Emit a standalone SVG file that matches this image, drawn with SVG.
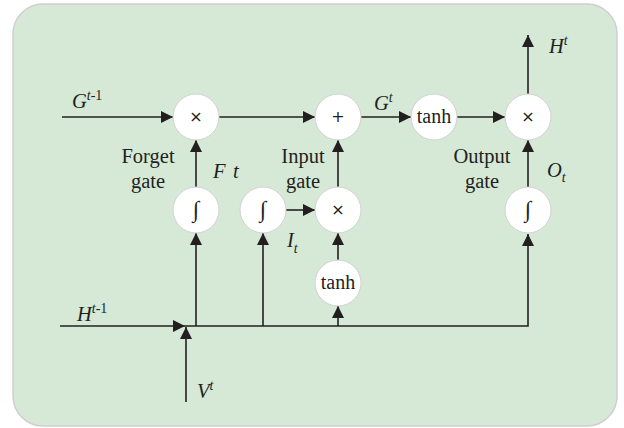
<svg xmlns="http://www.w3.org/2000/svg" width="624" height="428" viewBox="0 0 624 428">
<style>
.bg{fill:#d5e9d6;stroke:#cfcfcf;stroke-width:1.5}
.nd{fill:#fff;stroke:#d2d2d2;stroke-width:1}
.ln{fill:none;stroke:#231f20;stroke-width:1.6}
.t{font-family:"Liberation Serif","DejaVu Serif",serif;fill:#231f20;font-size:20.5px}
.tn{font-size:20px}
.c{text-anchor:middle}
.i{font-style:italic;font-size:20.5px}
.sp{font-size:14px}
.up{font-style:normal}
.int{font-family:"Liberation Serif","DejaVu Serif",serif;fill:#231f20;font-size:23px;text-anchor:middle}
.sym{font-family:"DejaVu Sans","Liberation Sans",sans-serif;fill:#231f20;font-size:16px;text-anchor:middle}
</style>
<defs>
<marker id="ah" markerUnits="userSpaceOnUse" markerWidth="13" markerHeight="13" refX="12" refY="6" orient="auto">
<path d="M0,0 L12,6 L0,12 z" fill="#231f20"/>
</marker>
</defs>
<rect class="bg" x="13" y="4" width="604" height="422" rx="30" ry="30"/>
<g id="connectors">
<line class="ln" x1="62" y1="117" x2="173" y2="117" marker-end="url(#ah)"/>
<line class="ln" x1="219" y1="117" x2="315" y2="117" marker-end="url(#ah)"/>
<line class="ln" x1="361" y1="117" x2="411" y2="117" marker-end="url(#ah)"/>
<line class="ln" x1="457" y1="117" x2="505" y2="117" marker-end="url(#ah)"/>
<line class="ln" x1="528" y1="94" x2="528" y2="35" marker-end="url(#ah)"/>
<line class="ln" x1="196" y1="187" x2="196" y2="140" marker-end="url(#ah)"/>
<line class="ln" x1="338" y1="187" x2="338" y2="140" marker-end="url(#ah)"/>
<line class="ln" x1="528" y1="187" x2="528" y2="140" marker-end="url(#ah)"/>
<line class="ln" x1="286" y1="210" x2="315" y2="210" marker-end="url(#ah)"/>
<line class="ln" x1="338" y1="260" x2="338" y2="233" marker-end="url(#ah)"/>
<line class="ln" x1="60" y1="326" x2="185" y2="326" marker-end="url(#ah)"/>
<line class="ln" x1="186" y1="402" x2="186" y2="327" marker-end="url(#ah)"/>
<polyline class="ln" points="185,326 528,326 528,234" marker-end="url(#ah)"/>
<line class="ln" x1="196" y1="326" x2="196" y2="233" marker-end="url(#ah)"/>
<line class="ln" x1="263" y1="326" x2="263" y2="233" marker-end="url(#ah)"/>
<line class="ln" x1="338" y1="326" x2="338" y2="306" marker-end="url(#ah)"/>
</g>
<g id="forget-mult"><circle class="nd" cx="196" cy="117" r="23"/><text class="sym" x="196" y="122">×</text></g>
<g id="add"><circle class="nd" cx="338" cy="117" r="23"/><text class="sym" x="338" y="122">+</text></g>
<g id="tanh-out"><circle class="nd" cx="434" cy="117" r="23"/><text class="t tn c" x="434" y="123">tanh</text></g>
<g id="output-mult"><circle class="nd" cx="528" cy="117" r="23"/><text class="sym" x="528" y="122">×</text></g>
<g id="forget-sigma"><circle class="nd" cx="196" cy="210" r="23"/><text class="int" x="196" y="217">∫</text></g>
<g id="input-sigma"><circle class="nd" cx="263" cy="210" r="23"/><text class="int" x="263" y="217">∫</text></g>
<g id="input-mult"><circle class="nd" cx="338" cy="210" r="23"/><text class="sym" x="338" y="215">×</text></g>
<g id="tanh-in"><circle class="nd" cx="338" cy="283" r="23"/><text class="t tn c" x="338" y="289">tanh</text></g>
<g id="output-sigma"><circle class="nd" cx="528" cy="210" r="23"/><text class="int" x="528" y="217">∫</text></g>
<g id="labels">
<text class="t i" x="72" y="108">G<tspan class="sp" dy="-8">t</tspan><tspan class="sp up">-1</tspan></text>
<text class="t c" x="148" y="163">Forget</text>
<text class="t c" x="148" y="188">gate</text>
<text class="t i" x="213" y="178">F</text>
<text class="t i" x="233" y="178">t</text>
<text class="t c" x="303" y="163">Input</text>
<text class="t c" x="303" y="188">gate</text>
<text class="t i" x="287" y="247">I<tspan class="sp" dy="6">t</tspan></text>
<text class="t i" x="374" y="110">G<tspan class="sp" dy="-8">t</tspan></text>
<text class="t c" x="482" y="163">Output</text>
<text class="t c" x="482" y="188">gate</text>
<text class="t i" x="547" y="177">O<tspan class="sp" dy="5">t</tspan></text>
<text class="t i" x="549" y="53">H<tspan class="sp" dy="-8">t</tspan></text>
<text class="t i" x="77" y="321">H<tspan class="sp" dy="-8">t</tspan><tspan class="sp up">-1</tspan></text>
<text class="t i" x="197" y="398">V<tspan class="sp" dy="-8">t</tspan></text>
</g>
</svg>
